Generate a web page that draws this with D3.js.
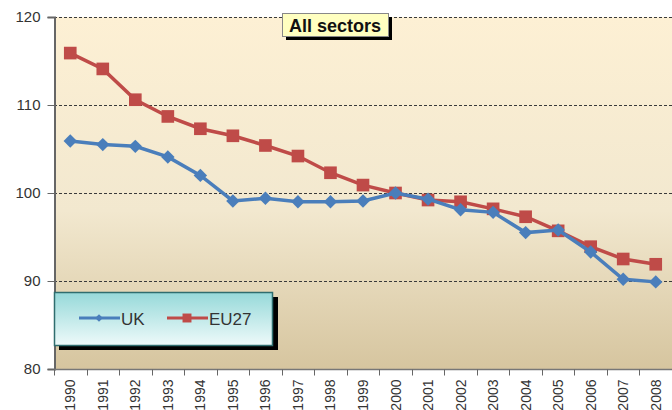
<!DOCTYPE html>
<html>
<head>
<meta charset="utf-8">
<script src="https://cdn.jsdelivr.net/npm/d3@7"></script>
<style>
	body { margin: 0; background: #fff; }
	svg { display: block; font-family: "Liberation Sans", Arial, sans-serif; }
</style>
</head>
<body>
<div id="chart"></div>
<script>
const years = ["1990","1991","1992","1993","1994","1995","1996","1997","1998","1999",
	"2000","2001","2002","2003","2004","2005","2006","2007","2008"];
const ukValues = [105.9, 105.5, 105.3, 104.1, 102.0, 99.1, 99.4, 99.0, 99.0, 99.1,
	100.0, 99.3, 98.1, 97.8, 95.5, 95.8, 93.3, 90.2, 89.9];
const eu27Values = [115.9, 114.1, 110.6, 108.7, 107.3, 106.5, 105.4, 104.2, 102.3, 100.9,
	100.0, 99.2, 99.0, 98.2, 97.3, 95.7, 93.9, 92.5, 91.9];
const yTicks = [80, 90, 100, 110, 120];

const width = 672, height = 410,
			margin = {top: 17, right: 0, bottom: 41, left: 54};

const svg = d3.select("#chart").append("svg")
	.attr("width", width)
	.attr("height", height);

const defs = svg.append("defs");
const bg = defs.append("linearGradient").attr("id", "bg")
	.attr("x1", 0).attr("y1", 0).attr("x2", 0).attr("y2", 1);
bg.append("stop").attr("offset", "0%").attr("stop-color", "#fdf0d4");
bg.append("stop").attr("offset", "55%").attr("stop-color", "#f2e8cf");
bg.append("stop").attr("offset", "100%").attr("stop-color", "#d6c59f");

const lg = defs.append("linearGradient").attr("id", "legendBg")
	.attr("x1", 0).attr("y1", 0).attr("x2", 0).attr("y2", 1);
lg.append("stop").attr("offset", "0%").attr("stop-color", "#96d9d9");
lg.append("stop").attr("offset", "100%").attr("stop-color", "#eefafa");

const x = d3.scaleBand()
	.domain(years)
	.range([margin.left, width - margin.right]);

const y = d3.scaleLinear()
	.domain([80, 120])
	.range([height - margin.bottom, margin.top]);

// plot background
svg.append("rect")
	.attr("x", margin.left)
	.attr("y", margin.top)
	.attr("width", width - margin.left - margin.right)
	.attr("height", y(80) - y(120))
	.attr("fill", "url(#bg)");

// dashed gridlines
svg.append("g")
	.selectAll("line")
	.data(yTicks.filter(d => d > 80))
	.join("line")
		.attr("x1", margin.left)
		.attr("x2", width)
		.attr("y1", d => Math.round(y(d)) + 0.5)
		.attr("y2", d => Math.round(y(d)) + 0.5)
		.attr("stroke", "#3a3a3a")
		.attr("stroke-width", 1)
		.attr("stroke-dasharray", "3,2");

// y axis
const yAxis = svg.append("g")
	.attr("transform", "translate(" + (margin.left + 0.5) + ",0)")
	.call(d3.axisLeft(y).tickValues(yTicks).tickSize(7).tickPadding(7).tickFormat(d3.format("d")));
yAxis.select(".domain").attr("stroke", "#666").attr("stroke-width", 2);
yAxis.selectAll(".tick line").attr("stroke", "#666");
yAxis.selectAll("text")
	.attr("font-size", 15)
	.attr("fill", "#333")
	.attr("font-family", "Liberation Sans, Arial, sans-serif");

// x axis with ticks on band edges
const xg = svg.append("g")
	.attr("transform", "translate(0," + (Math.round(y(80)) + 0.5) + ")");
xg.append("line")
	.attr("x1", margin.left).attr("x2", width)
	.attr("stroke", "#777").attr("stroke-width", 1.5);
xg.selectAll("line.tick")
	.data(years)
	.join("line")
		.attr("class", "tick")
		.attr("x1", d => Math.round(x(d)) + 0.5)
		.attr("x2", d => Math.round(x(d)) + 0.5)
		.attr("y1", 0).attr("y2", 6)
		.attr("stroke", "#666");
xg.selectAll("text")
	.data(years)
	.join("text")
		.attr("transform", d => "translate(" + (x(d) + x.bandwidth() / 2 + 5) + ",10) rotate(-90)")
		.attr("text-anchor", "end")
		.attr("font-size", 14)
		.attr("fill", "#333")
		.text(d => d);

const line = d3.line()
	.x((d, i) => x(years[i]) + x.bandwidth() / 2)
	.y(d => y(d));

// EU27 series
svg.append("path")
	.datum(eu27Values)
	.attr("d", line)
	.attr("fill", "none")
	.attr("stroke", "#bf4b48")
	.attr("stroke-width", 3.5);
svg.append("g")
	.selectAll("path")
	.data(eu27Values)
	.join("path")
		.attr("transform", (d, i) => "translate(" + (x(years[i]) + x.bandwidth() / 2) + "," + y(d) + ")")
		.attr("d", d3.symbol(d3.symbolSquare, 160))
		.attr("fill", "#bf4b48");

// UK series
svg.append("path")
	.datum(ukValues)
	.attr("d", line)
	.attr("fill", "none")
	.attr("stroke", "#4a7ebb")
	.attr("stroke-width", 3.5);
svg.append("g")
	.selectAll("path")
	.data(ukValues)
	.join("path")
		.attr("transform", (d, i) => "translate(" + (x(years[i]) + x.bandwidth() / 2) + "," + y(d) + ") rotate(45)")
		.attr("d", d3.symbol(d3.symbolSquare, 90))
		.attr("fill", "#4a7ebb");

// title box
const title = svg.append("g").attr("transform", "translate(282,13)");
title.append("rect")
	.attr("x", 4).attr("y", 4)
	.attr("width", 106).attr("height", 23)
	.attr("fill", "#000");
title.append("rect")
	.attr("x", 0.5).attr("y", 0.5)
	.attr("width", 106).attr("height", 23)
	.attr("fill", "#ffffc0")
	.attr("stroke", "#888");
title.append("text")
	.attr("x", 53).attr("y", 18.5)
	.attr("text-anchor", "middle")
	.attr("font-size", 18)
	.attr("font-weight", "bold")
	.attr("fill", "#111")
	.text("All sectors");

// legend
const legend = svg.append("g").attr("transform", "translate(54,292)");
legend.append("rect")
	.attr("x", 5).attr("y", 5)
	.attr("width", 219).attr("height", 53)
	.attr("fill", "#000");
legend.append("rect")
	.attr("x", 0.5).attr("y", 0.5)
	.attr("width", 218).attr("height", 53)
	.attr("fill", "url(#legendBg)")
	.attr("stroke", "#2f6d6e")
	.attr("stroke-width", 1.5);

const items = [
	{name: "UK", color: "#4a7ebb", sym: "diamond", x: 25},
	{name: "EU27", color: "#bf4b48", sym: "square", x: 113}
];
const li = legend.selectAll("g.item")
	.data(items)
	.join("g")
		.attr("class", "item")
		.attr("transform", d => "translate(" + d.x + ",26)");
li.append("line")
	.attr("x1", 0).attr("x2", 41)
	.attr("stroke", d => d.color)
	.attr("stroke-width", 3);
li.append("path")
	.attr("transform", d => d.sym === "diamond" ? "translate(20,0) rotate(45)" : "translate(20,0)")
	.attr("d", d => d.sym === "diamond" ? d3.symbol(d3.symbolSquare, 30)() : d3.symbol(d3.symbolSquare, 80)())
	.attr("fill", d => d.color);
li.append("text")
	.attr("x", 42).attr("y", 6.5)
	.attr("font-size", 17)
	.attr("fill", "#333")
	.text(d => d.name);
</script>
</body>
</html>
